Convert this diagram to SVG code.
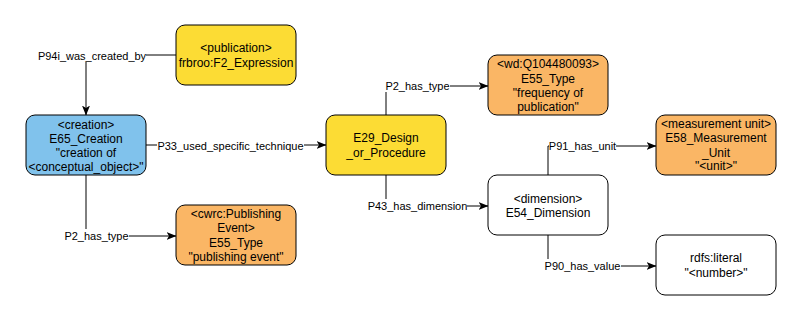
<svg xmlns="http://www.w3.org/2000/svg" width="801" height="322" viewBox="0 0 801 322">
<defs>
<marker id="arr" viewBox="0 0 10 8" refX="9.5" refY="4" markerWidth="10" markerHeight="8" markerUnits="userSpaceOnUse" orient="auto">
<path d="M0,0 L10,4 L0,8 L2.5,4 Z" fill="#000"/>
</marker>
<style>
.box{stroke:#000;stroke-width:1}
.blue{fill:#80c2ec}
.yellow{fill:#fcdc34}
.orange{fill:#fab665}
.white{fill:#fff}
text{font-family:"Liberation Sans",Arial,sans-serif;fill:#000;text-anchor:middle}
.n{font-size:12px}
.l{font-size:11px}
.e{fill:none;stroke:#000;stroke-width:1}
.lb{fill:#fff}
</style>
</defs>
<rect width="801" height="322" fill="#fff"/>
<g id="connectors">
<path class="e" d="M176,55 H86 V115" marker-end="url(#arr)"/>
<path class="e" d="M146,145 H326" marker-end="url(#arr)"/>
<path class="e" d="M86,175 V236 H176" marker-end="url(#arr)"/>
<path class="e" d="M386,115 V86 H488" marker-end="url(#arr)"/>
<path class="e" d="M386,175 V206 H488" marker-end="url(#arr)"/>
<path class="e" d="M548,175 V146 H656" marker-end="url(#arr)"/>
<path class="e" d="M548,235 V266 H656" marker-end="url(#arr)"/>
<rect class="lb" x="38" y="49" width="108" height="13"/>
<text class="l" x="92" y="60">P94i_was_created_by</text>
<rect class="lb" x="157" y="139" width="147" height="13"/>
<text class="l" x="230.5" y="150">P33_used_specific_technique</text>
<rect class="lb" x="64" y="229" width="65" height="13"/>
<text class="l" x="96.5" y="240">P2_has_type</text>
<rect class="lb" x="385" y="79" width="65" height="13"/>
<text class="l" x="417.5" y="90">P2_has_type</text>
<rect class="lb" x="368" y="199" width="99" height="13"/>
<text class="l" x="417.5" y="210">P43_has_dimension</text>
<rect class="lb" x="549" y="139" width="67" height="13"/>
<text class="l" x="582.5" y="150">P91_has_unit</text>
<rect class="lb" x="544" y="259" width="77" height="13"/>
<text class="l" x="582.5" y="270">P90_has_value</text>
</g>
<g id="publication">
<rect class="box yellow" x="176" y="25" width="120" height="60" rx="9"/>
<text class="n" x="236" y="52">&lt;publication&gt;</text>
<text class="n" x="236" y="66.5">frbroo:F2_Expression</text>
</g>
<g id="creation">
<rect class="box blue" x="26" y="115" width="120" height="60" rx="9"/>
<text class="n" x="86" y="128.5">&lt;creation&gt;</text>
<text class="n" x="86" y="142.5">E65_Creation</text>
<text class="n" x="86" y="157">"creation of</text>
<text class="n" x="86" y="171">&lt;conceptual_object&gt;"</text>
</g>
<g id="publishing">
<rect class="box orange" x="176" y="205" width="120" height="60" rx="9"/>
<text class="n" x="236" y="217.5">&lt;cwrc:Publishing</text>
<text class="n" x="236" y="232">Event&gt;</text>
<text class="n" x="236" y="246.5">E55_Type</text>
<text class="n" x="236" y="261">"publishing event"</text>
</g>
<g id="design">
<rect class="box yellow" x="326" y="115" width="120" height="60" rx="9"/>
<text class="n" x="386" y="142">E29_Design</text>
<text class="n" x="386" y="157">_or_Procedure</text>
</g>
<g id="frequency">
<rect class="box orange" x="488" y="55" width="120" height="60" rx="9"/>
<text class="n" x="548" y="68">&lt;wd:Q104480093&gt;</text>
<text class="n" x="548" y="82.5">E55_Type</text>
<text class="n" x="548" y="97">"frequency of</text>
<text class="n" x="548" y="111">publication"</text>
</g>
<g id="dimension">
<rect class="box white" x="488" y="175" width="120" height="60" rx="9"/>
<text class="n" x="548" y="202.5">&lt;dimension&gt;</text>
<text class="n" x="548" y="217">E54_Dimension</text>
</g>
<g id="unit">
<rect class="box orange" x="656" y="115" width="120" height="60" rx="9"/>
<text class="n" x="716" y="128">&lt;measurement unit&gt;</text>
<text class="n" x="716" y="142">E58_Measurement</text>
<text class="n" x="716" y="157">_Unit</text>
<text class="n" x="716" y="170">"&lt;unit&gt;"</text>
</g>
<g id="literal">
<rect class="box white" x="656" y="235" width="120" height="60" rx="9"/>
<text class="n" x="716" y="261.5">rdfs:literal</text>
<text class="n" x="716" y="276.5">"&lt;number&gt;"</text>
</g>
</svg>
